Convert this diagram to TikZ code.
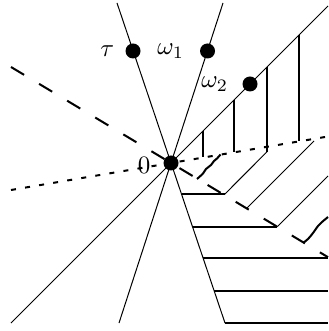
\documentclass[tikz,border=0pt]{standalone}
\usepackage{amsmath,amssymb}
\usepackage{tikz}
\usetikzlibrary{positioning}

\begin{document}
\begin{tikzpicture}[
    x=0.4pt, y=-0.4pt,
    axis/.style={line width=0.4pt},
    hatch/.style={line width=0.8pt},
    longdash/.style={line width=0.8pt, dash pattern=on 6.1pt off 7pt},
    shortdash/.style={line width=0.8pt, dash pattern=on 2pt off 3.7pt},
    dot/.style={circle, fill, inner sep=0pt, minimum size=6pt}
]
    \useasboundingbox (0,0) rectangle (328,331);

    \coordinate (tauA) at (117,3);
    \coordinate (tauB) at (225,323);
    \coordinate (omA) at (223,3);
    \coordinate (omB) at (119,323);
    \coordinate (diagA) at (11,323);
    \coordinate (diagB) at (328,6);
    \coordinate (dashA) at (11,67);
    \coordinate (dashB) at (328,257.2);
    \coordinate (dotA) at (11,190);
    \coordinate (dotB) at (328,136.5);

    \draw[axis] (tauA) -- (tauB);
    \draw[axis] (omA) -- (omB);
    \draw[axis] (diagA) -- (diagB);
    \draw[longdash] (dashA) -- (dashB);
    \draw[shortdash] (dotA) -- (dotB);

    \draw[hatch] (203,131) -- (203,157.3);
    \draw[hatch] (234,100) -- (234,152.5);
    \draw[hatch] (299,35) -- (299,141.5);
    \draw[hatch] (267,67) -- (267,151.7);
    \draw[axis] (267,151.7) -- (224.5,194.5);
    \draw[axis] (314,141) -- (246.6,208.4);
    \draw[axis] (328,176) -- (277.3,226.7);
    \draw[hatch] (224.5,194.5) -- (181.6,194.5);
    \draw[hatch] (277.3,226.7) -- (192.5,226.7);
    \foreach \y/\x in {258.3/203.2, 290.7/214.1, 322.7/224.9}
        \draw[hatch] (\x,\y) -- (328,\y);
    \draw[hatch] plot[smooth] coordinates {(220.5,154.5) (217,158.5) (214,161) (211,165) (206,169) (203,173.5) (197,179)};
    \draw[hatch] plot[smooth] coordinates {(303.3,242.7) (308,239) (313,233) (318,226) (322,222) (328,217)};

    \node[dot] (O) at (171,163) {};
    \node[dot] (tau) at (133,51) {};
    \node[dot] (w1) at (207.5,51) {};
    \node[dot] (w2) at (250,84) {};

    \node[left=0.8pt of tau] (ltau) {$\tau$};
    \node[left=2.6pt of w1] (lw1) {$\omega_1$};
    \node[left=2pt of w2] (lw2) {$\omega_2$};
    \node[left=1.5pt of O, yshift=-0.8pt] (lO) {$0$};
\end{tikzpicture}
\end{document}
